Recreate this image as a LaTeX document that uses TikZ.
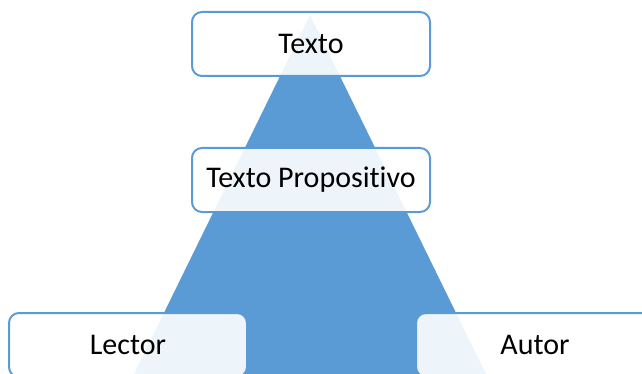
\documentclass[tikz,border=0pt]{standalone}
\usepackage{fontspec}
\setmainfont[Ligatures=NoCommon]{Carlito}
\definecolor{accent}{HTML}{5B9BD5}
\tikzset{
  level/.style={draw=accent, line width=2pt, fill=white, fill opacity=0.9,
    text opacity=1, rounded corners=10pt, minimum width=238pt,
    minimum height=64pt, inner sep=0pt, text=black,
    font=\fontsize{30}{34}\selectfont}
}
\begin{document}
\begin{tikzpicture}[x=1pt, y=-1pt]
  \useasboundingbox (0,0) rectangle (642,374);
  \clip (0,0) rectangle (642,374);
  % pyramid behind the levels
  \fill[accent] (310,15) -- (486,374) -- (134,374) -- cycle;
  % levels
  \node[level] (texto) at (311,44) {Texto};
  \node[level] (prop) at (311,180) {Texto Propositivo};
  \node[level] (lector) at (128,345) {Lector};
  \node[level] (autor) at (535,345) {Autor};
\end{tikzpicture}
\end{document}
